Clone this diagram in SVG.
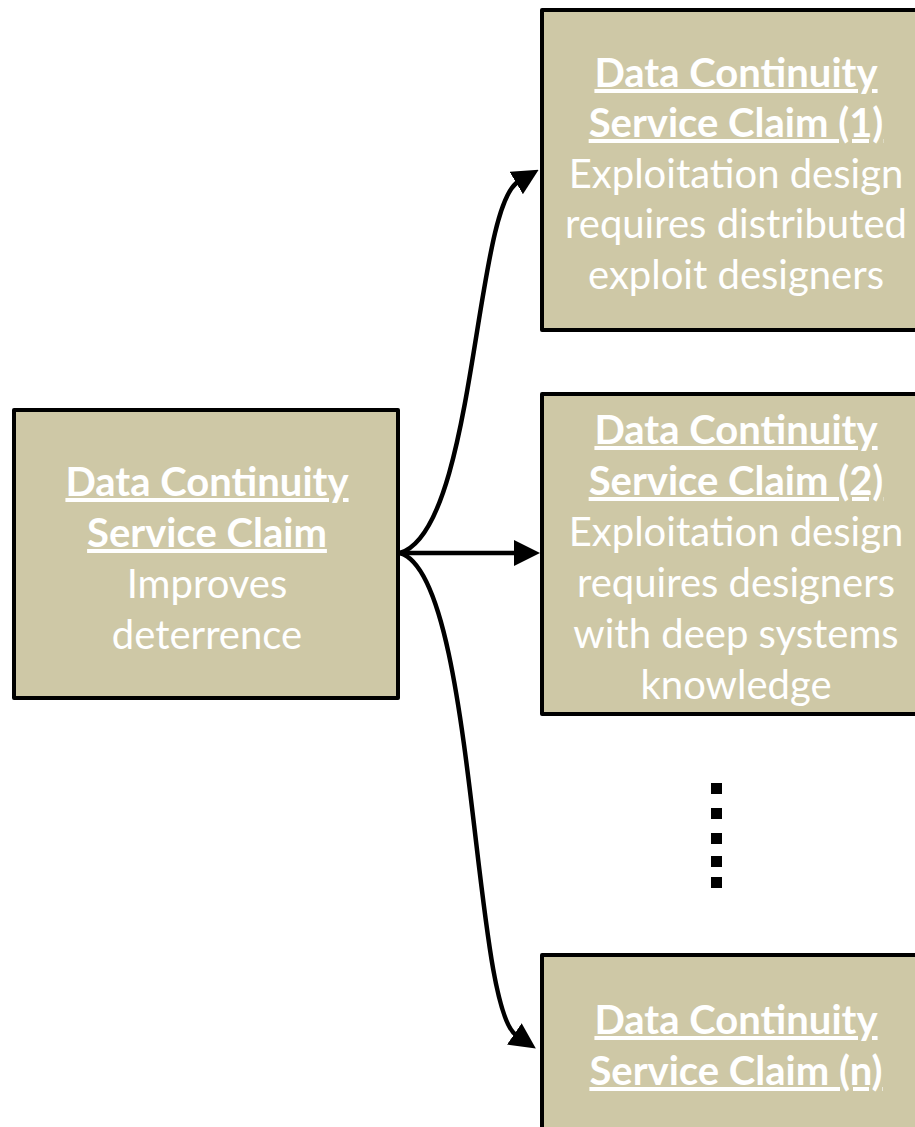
<svg xmlns="http://www.w3.org/2000/svg" width="915" height="1127" viewBox="0 0 915 1127">
  <style>
    .box { fill: #CEC8A6; stroke: #000; stroke-width: 4; stroke-linejoin: round; }
    .lbl { font-family: Lato, "Open Sans", "Liberation Sans", sans-serif; font-size: 40px; fill: #FFFFFF; text-anchor: middle; }
    .hd { font-weight: bold; text-decoration: underline; text-decoration-skip-ink: none; }
    .wire { fill: none; stroke: #000; stroke-width: 4.5; }
  </style>
  <defs>
    <marker id="arrow" markerUnits="userSpaceOnUse" viewBox="0 0 26 26" refX="2" refY="13" markerWidth="26" markerHeight="26" orient="auto">
      <path d="M0,0 L26,13 L0,26 z" fill="#000"/>
    </marker>
  </defs>

  <!-- connectors from the root claim to the sub-claims -->
  <g id="connectors">
    <path class="wire" d="M400,553 C476,530 474,208 518,182" marker-end="url(#arrow)"/>
    <path class="wire" d="M400,553 L516,553" marker-end="url(#arrow)"/>
    <path class="wire" d="M400,553 C476,575 472,1005 516,1035" marker-end="url(#arrow)"/>
  </g>

  <g id="root-claim">
    <rect class="box" x="14" y="410" width="384" height="288"/>
    <text class="lbl hd" x="207" y="496">Data Continuity</text>
    <text class="lbl hd" x="207" y="547">Service Claim</text>
    <text class="lbl" x="207" y="598">Improves</text>
    <text class="lbl" x="207" y="649">deterrence</text>
  </g>

  <g id="claim-1">
    <rect class="box" x="542" y="10" width="388" height="320"/>
    <text class="lbl hd" x="736" y="87">Data Continuity</text>
    <text class="lbl hd" x="736" y="137">Service Claim (1)</text>
    <text class="lbl" x="736" y="188">Exploitation design</text>
    <text class="lbl" x="736" y="238">requires distributed</text>
    <text class="lbl" x="736" y="289">exploit designers</text>
  </g>

  <g id="claim-2">
    <rect class="box" x="542" y="394" width="388" height="320"/>
    <text class="lbl hd" x="736" y="444">Data Continuity</text>
    <text class="lbl hd" x="736" y="495">Service Claim (2)</text>
    <text class="lbl" x="736" y="546">Exploitation design</text>
    <text class="lbl" x="736" y="597">requires designers</text>
    <text class="lbl" x="736" y="648">with deep systems</text>
    <text class="lbl" x="736" y="699">knowledge</text>
  </g>

  <!-- vertical ellipsis between claim 2 and claim n -->
  <g id="ellipsis" fill="#000">
    <rect x="711" y="783" width="11" height="11"/>
    <rect x="711" y="808" width="11" height="11"/>
    <rect x="711" y="833" width="11" height="11"/>
    <rect x="711" y="856" width="11" height="11"/>
    <rect x="711" y="877" width="11" height="11"/>
  </g>

  <g id="claim-n">
    <rect class="box" x="542" y="955" width="388" height="200"/>
    <text class="lbl hd" x="736" y="1034">Data Continuity</text>
    <text class="lbl hd" x="736" y="1085">Service Claim (n)</text>
  </g>
</svg>
